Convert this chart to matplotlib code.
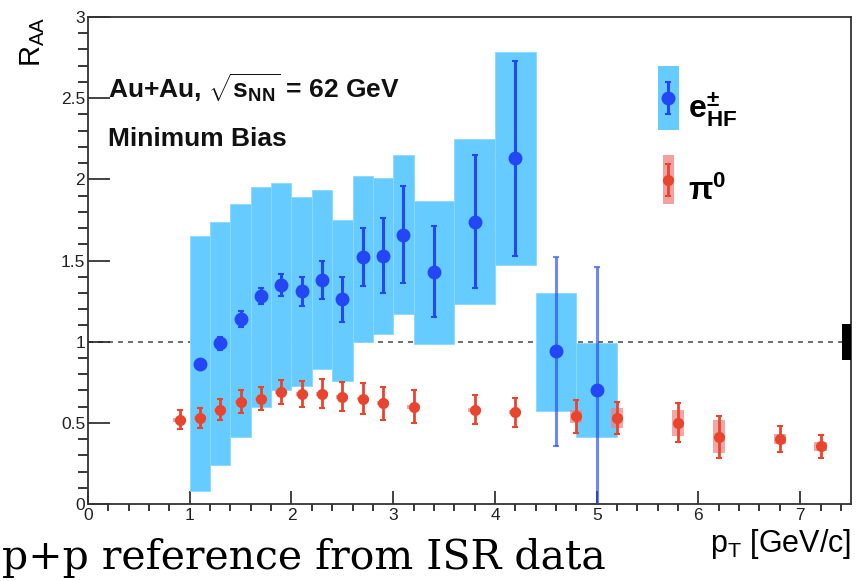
import matplotlib
matplotlib.use("Agg")
import matplotlib.pyplot as plt
import numpy as np
from matplotlib.patches import Patch, Rectangle
from matplotlib.legend_handler import HandlerTuple, HandlerPatch

plt.rcParams['font.family'] = ['Liberation Sans', 'DejaVu Sans']
plt.rcParams['mathtext.fontset'] = 'custom'
plt.rcParams['mathtext.rm'] = 'Liberation Sans'
plt.rcParams['mathtext.bf'] = 'Liberation Sans:bold'
plt.rcParams['mathtext.it'] = 'Liberation Sans:italic'

# heavy flavour electrons
e_pt = [1.1, 1.3, 1.5, 1.7, 1.9, 2.1, 2.3, 2.5, 2.7, 2.9, 3.1, 3.4, 3.8, 4.2, 4.6, 5.0]
e_raa = [0.86, 0.99, 1.14, 1.28, 1.35, 1.31, 1.38, 1.26, 1.52, 1.53, 1.66, 1.43, 1.74, 2.13, 0.94, 0.70]
e_stat = [0.03, 0.04, 0.05, 0.05, 0.07, 0.09, 0.12, 0.14, 0.18, 0.23, 0.30, 0.28, 0.41, 0.60, 0.58, 0.76]
# systematic boxes (bin edges, lower / upper edge of the box)
e_bin_lo = [1.0, 1.2, 1.4, 1.6, 1.8, 2.0, 2.2, 2.4, 2.6, 2.8, 3.0, 3.2, 3.6, 4.0, 4.4, 4.8]
e_bin_hi = [1.2, 1.4, 1.6, 1.8, 2.0, 2.2, 2.4, 2.6, 2.8, 3.0, 3.2, 3.6, 4.0, 4.4, 4.8, 5.2]
e_sys_lo = [0.08, 0.24, 0.415, 0.60, 0.70, 0.73, 0.83, 0.76, 1.00, 1.045, 1.17, 0.985, 1.23, 1.47, 0.57, 0.415]
e_sys_hi = [1.65, 1.74, 1.85, 1.955, 1.98, 1.89, 1.935, 1.75, 2.02, 2.01, 2.15, 1.865, 2.25, 2.785, 1.30, 0.99]
n_light = 2  # last two points have lighter stat. bars

# pi0
pi_pt = [0.9, 1.1, 1.3, 1.5, 1.7, 1.9, 2.1, 2.3, 2.5, 2.7, 2.9, 3.2, 3.8, 4.2, 4.8, 5.2, 5.8, 6.2, 6.8, 7.2]
pi_raa = [0.52, 0.53, 0.58, 0.63, 0.65, 0.69, 0.68, 0.68, 0.66, 0.65, 0.62, 0.60, 0.58, 0.565, 0.54, 0.53, 0.50, 0.415, 0.40, 0.355]
pi_stat = [0.06, 0.06, 0.065, 0.07, 0.07, 0.075, 0.08, 0.09, 0.09, 0.095, 0.10, 0.10, 0.09, 0.09, 0.10, 0.10, 0.12, 0.13, 0.08, 0.07]
pi_sys = [0.012, 0.012, 0.012, 0.012, 0.012, 0.012, 0.012, 0.012, 0.012, 0.012, 0.012, 0.012, 0.012, 0.012, 0.04, 0.06, 0.08, 0.10, 0.03, 0.03]
pi_box_w = 0.12

norm_unc = 0.11
norm_w = 0.09

box_blue = '#66ccff'
blue = '#2447f5'
red = '#e9442d'
pink = '#ee8080'

fig = plt.figure(figsize=(8.56, 5.81), dpi=100)
ax = fig.add_axes([0.1028, 0.1325, 0.8914, 0.8382])

ax.axhline(1, color='#555555', ls=(0, (3, 3)), lw=1.2, zorder=1)

e_lo = np.array(e_sys_lo)
e_hi = np.array(e_sys_hi)
e_w = np.array(e_bin_hi) - np.array(e_bin_lo)
ax.bar(e_bin_lo, e_hi - e_lo, width=e_w, bottom=e_lo, align='edge',
       color=box_blue, edgecolor='#8ad8ff', linewidth=0.6, zorder=2)

pi_raa_a = np.array(pi_raa)
pi_sys_a = np.array(pi_sys)
ax.bar(pi_pt, 2 * pi_sys_a, width=pi_box_w, bottom=pi_raa_a - pi_sys_a,
       color=pink, alpha=0.7, edgecolor='none', zorder=3)

pi_cont = ax.errorbar(pi_pt, pi_raa, yerr=pi_stat, fmt='o', color=red, ms=7,
                      elinewidth=2.0, capsize=2, capthick=1.5, zorder=4)

k = len(e_pt) - n_light
e_cont = ax.errorbar(e_pt[:k], e_raa[:k], yerr=e_stat[:k], fmt='o', color=blue, ms=9,
                     elinewidth=2.2, capsize=2.2, capthick=1.5, zorder=5)
ax.errorbar(e_pt[k:], e_raa[k:], yerr=e_stat[k:], fmt='o', color=blue, ms=9,
            ecolor=(0.14, 0.28, 0.96, 0.65), elinewidth=2.2, capsize=2.2, capthick=1.5,
            zorder=5)

# global normalisation uncertainty
ax.bar([7.5 - norm_w], [2 * norm_unc], width=norm_w, bottom=1 - norm_unc, align='edge',
       color='black', zorder=6)

ax.set_xlim(0, 7.5)
ax.set_ylim(0, 3)
ax.set_xticks(np.arange(0, 8, 1))
ax.set_xticks(np.arange(0, 7.5, 0.2), minor=True)
ax.set_yticks(np.arange(0, 3.01, 0.5))
ax.set_yticks(np.arange(0, 3.01, 0.1), minor=True)
ax.set_yticklabels(['0', '0.5', '1', '1.5', '2', '2.5', '3'])
ax.tick_params(axis='both', direction='in', labelsize=12.5, colors='#222222', width=1.2,
               top=False, right=False)
ax.tick_params(axis='x', which='major', length=9.5, pad=3)
ax.tick_params(axis='x', which='minor', length=5, width=1.1)
ax.tick_params(axis='y', which='major', length=16, pad=2)
ax.tick_params(axis='y', which='minor', length=7, width=1.1)
for s in ax.spines.values():
    s.set_linewidth(1.3)
    s.set_color('#333333')

ax.set_ylabel(r'R$_{\mathregular{AA}}$', fontsize=21, loc='top', labelpad=10)
ax.set_xlabel(r'p$_{\mathregular{T}}$ [GeV/c]', fontsize=22, loc='right', labelpad=3)

ax.text(0.026, 0.832, r'Au+Au, $\sqrt{\mathbf{s}_{\mathbf{NN}}}$ = 62 GeV', transform=ax.transAxes,
        fontsize=19, fontweight='bold', va='baseline', color='#111111')
ax.text(0.026, 0.735, 'Minimum Bias', transform=ax.transAxes,
        fontsize=19, fontweight='bold', va='baseline', color='#111111')


# legend boxes centred on the errorbar marker
def wide_box(legend, orig_handle, xdescent, ydescent, width, height, fontsize):
    yc = (height - ydescent) / 2
    return Rectangle((-xdescent, yc - 0.5 * height), width, height)


def narrow_box(legend, orig_handle, xdescent, ydescent, width, height, fontsize):
    yc = (height - ydescent) / 2
    return Rectangle((-xdescent + 0.25 * width, yc - 0.385 * height),
                     0.5 * width, 0.77 * height)


blue_patch = Patch(facecolor=box_blue, edgecolor='none')
red_patch = Patch(facecolor=pink, alpha=0.75, edgecolor='none')
ax.legend([(blue_patch, e_cont), (red_patch, pi_cont)],
          [r'$\mathbf{e}^{\mathbf{\pm}}_{\mathbf{HF}}$', r'π$^{\mathbf{0}}$'],
          handler_map={tuple: HandlerTuple(ndivide=1, pad=0),
                       blue_patch: HandlerPatch(patch_func=wide_box),
                       red_patch: HandlerPatch(patch_func=narrow_box)},
          loc='upper left', bbox_to_anchor=(0.747, 0.876), frameon=False, borderpad=0,
          borderaxespad=0, handlelength=0.65, handleheight=2.7, handletextpad=0.3,
          labelspacing=0.55, prop={'size': 23, 'weight': 'bold'})

fig.text(0.002, 0.02, 'p+p reference from ISR data', fontsize=29.5, family='DejaVu Serif',
         va='baseline')

fig.savefig('out.png', dpi=100)
